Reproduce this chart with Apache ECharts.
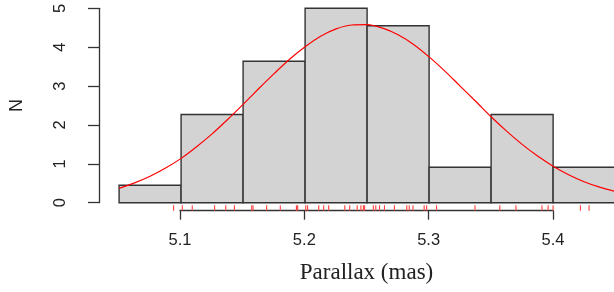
<!DOCTYPE html>
<html>
<head>
<meta charset="utf-8">
<script src="https://cdn.jsdelivr.net/npm/echarts@6/dist/echarts.min.js"></script>
<style>
  html, body { margin: 0; padding: 0; background: #fff; }
  #chart { width: 614px; height: 292px; }
</style>
</head>
<body>
<div id="chart"></div>
<script>
  // histogram bins (parallax, mas) and density heights
  var binEdges = [5.05, 5.10, 5.15, 5.20, 5.25, 5.30, 5.35, 5.40, 5.45];
  var density = [0.45, 2.27, 3.64, 5.00, 4.55, 0.91, 2.27, 0.91];

  // fitted curve
  var curveX = [5.0500, 5.0625, 5.0750, 5.0875, 5.1000, 5.1125, 5.1250, 5.1375, 5.1500,
                5.1625, 5.1750, 5.1875, 5.2000, 5.2125, 5.2250, 5.2375, 5.2500, 5.2625,
                5.2750, 5.2875, 5.3000, 5.3125, 5.3250, 5.3375, 5.3500, 5.3625, 5.3750,
                5.3875, 5.4000, 5.4125, 5.4250, 5.4375, 5.4500];
  var curveY = [0.37, 0.51, 0.68, 0.89, 1.14, 1.44, 1.77, 2.14, 2.53,
                2.93, 3.32, 3.69, 4.01, 4.28, 4.47, 4.57, 4.58, 4.49,
                4.32, 4.07, 3.75, 3.39, 3.00, 2.61, 2.21, 1.84, 1.50,
                1.20, 0.94, 0.72, 0.54, 0.40, 0.29];

  // rug of individual measurements
  var rugValues = [5.094, 5.101, 5.109, 5.127, 5.136, 5.143, 5.157, 5.158, 5.169, 5.180,
                   5.193, 5.194, 5.2005, 5.202, 5.211, 5.215, 5.219, 5.232, 5.236, 5.242,
                   5.245, 5.247, 5.248, 5.255, 5.257, 5.260, 5.264, 5.272, 5.282, 5.284,
                   5.287, 5.296, 5.298, 5.306, 5.337, 5.357, 5.370, 5.391, 5.396, 5.400,
                   5.422, 5.429];

  var xTicks = [5.1, 5.2, 5.3, 5.4];
  var yTicks = [0, 1, 2, 3, 4, 5];

  var bins = [];
  for (var i = 0; i < density.length; i++) {
    bins.push([binEdges[i], binEdges[i + 1], density[i]]);
  }
  var curve = curveX.map(function (x, i) { return [x, curveY[i]]; });
  var rug = rugValues.map(function (v) { return [v, 0]; });

  var axisColor = '#333';
  var myChart = echarts.init(document.getElementById('chart'));
  var option = {
    animation: false,
    grid: [
      {left: 97.7, right: 0, top: 8.3, bottom: 89.3},
      // separate grid only for the R-style x axis (spans first to last tick)
      {left: 180, width: 373, top: 200, height: 10.7}
    ],
    xAxis: [{
      gridIndex: 0,
      type: 'value',
      min: 5.0338,
      max: 5.4491,
      show: false
    }, {
      gridIndex: 1,
      type: 'value',
      min: xTicks[0],
      max: xTicks[xTicks.length - 1],
      interval: 0.1,
      axisLine: {show: true, lineStyle: {color: axisColor, width: 1.3}},
      axisTick: {show: true, length: 9, lineStyle: {color: axisColor, width: 1.3}},
      axisLabel: {
        margin: 21, fontSize: 16.5, color: '#222', fontFamily: 'Liberation Sans',
        formatter: function (v) { return v.toFixed(1); }
      },
      splitLine: {show: false},
      name: 'Parallax (mas)',
      nameLocation: 'middle',
      nameGap: 51,
      nameTextStyle: {fontSize: 23, color: '#222', fontFamily: 'Liberation Serif'}
    }],
    yAxis: [{
      gridIndex: 0,
      type: 'value',
      min: yTicks[0],
      max: yTicks[yTicks.length - 1],
      interval: 1,
      axisLine: {show: true, lineStyle: {color: axisColor, width: 1.3}},
      axisTick: {show: true, length: 11, lineStyle: {color: axisColor, width: 1.3}},
      axisLabel: {rotate: 90, margin: 30, fontSize: 16.5, color: '#222', fontFamily: 'Liberation Sans'},
      splitLine: {show: false},
      name: 'N',
      nameLocation: 'middle',
      nameRotate: 90,
      nameGap: 73,
      nameTextStyle: {fontSize: 18, color: '#222', fontFamily: 'Liberation Sans'}
    }, {
      gridIndex: 1,
      type: 'value',
      show: false
    }],
    series: [{
      type: 'custom',
      xAxisIndex: 0,
      yAxisIndex: 0,
      data: bins,
      renderItem: function (params, api) {
        var p0 = api.coord([api.value(0), 0]);
        var p1 = api.coord([api.value(1), api.value(2)]);
        return {
          type: 'rect',
          shape: {x: p0[0], y: p1[1], width: p1[0] - p0[0], height: p0[1] - p1[1]},
          style: {fill: '#d3d3d3', stroke: '#333', lineWidth: 1.4}
        };
      },
      z: 2
    }, {
      type: 'custom',
      xAxisIndex: 0,
      yAxisIndex: 0,
      data: rug,
      clip: false,
      renderItem: function (params, api) {
        var p = api.coord([api.value(0), 0]);
        return {
          type: 'line',
          shape: {x1: p[0], y1: p[1] + 2.5, x2: p[0], y2: p[1] + 8},
          style: {stroke: '#ff4040', lineWidth: 1.1}
        };
      },
      z: 3
    }, {
      type: 'line',
      xAxisIndex: 0,
      yAxisIndex: 0,
      data: curve,
      smooth: 0.3,
      showSymbol: false,
      lineStyle: {color: '#ff0000', width: 1.2},
      z: 4
    }]
  };
  myChart.setOption(option);
</script>
</body>
</html>
